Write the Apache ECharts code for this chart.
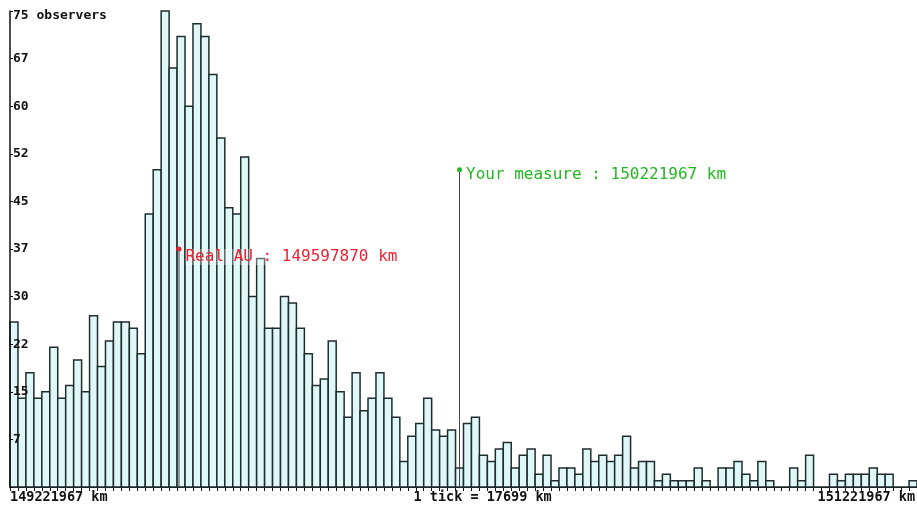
<!DOCTYPE html>
<html>
<head>
<meta charset="utf-8">
<script src="https://cdn.jsdelivr.net/npm/echarts@6/dist/echarts.min.js"></script>
<style>
  html, body { margin: 0; padding: 0; background: #fff; }
  #chart { width: 917px; height: 509px; }
</style>
</head>
<body>
<div id="chart"></div>
<script>
// histogram of measured AU distances, one bin = 1 tick
var startKm = 149221967;
var endKm = 151221967;
var tickKm = 17699;

// observers per bin
var counts = [
    26, 14, 18, 14, 15, 22, 14, 16, 20, 15, 27, 19, 23, 26, 26, 25, 21, 43, 50,
    75, 66, 71, 60, 73, 71, 65, 55, 44, 43, 52, 30, 36, 25, 25, 30, 29, 25, 21,
    16, 17, 23, 15, 11, 18, 12, 14, 18, 14, 11, 4, 8, 10, 14, 9, 8, 9, 3,
    10, 11, 5, 4, 6, 7, 3, 5, 6, 2, 5, 1, 3, 3, 2, 6, 4, 5,
    4, 5, 8, 3, 4, 4, 1, 2, 1, 1, 1, 3, 1, 0, 3, 3, 4, 2, 1,
    4, 1, 0, 0, 3, 1, 5, 0, 0, 2, 1, 2, 2, 2, 3, 2, 2, 0, 0, 1
];
var bins = counts.map(function (c, i) { return i; });

// y axis: 0..75, step 7.5, labels cut to integer
var yMax = 75;
var yStep = 7.5;

// the two marked distances
var markNames = ['Real AU', 'Your measure'];
var markKm = [149597870, 150221967];
var markLevel = [37.5, 50];
var markColors = ['#ee2233', '#22b822'];

var font = 'DejaVu Sans Mono';
var myChart = echarts.init(document.getElementById('chart'));

// bars drawn edge to edge so the borders of neighbours share one line
function renderBar(params, api) {
    var idx = api.value(0);
    var top = api.coord([idx, api.value(1)]);
    var base = api.coord([idx, 0]);
    var w = api.size([1, 0])[0];
    return {
        type: 'rect',
        shape: { x: top[0] - w / 2, y: top[1], width: w, height: base[1] - top[1] },
        style: { fill: '#dff7f7', stroke: '#1f2d2d', lineWidth: 1.5 }
    };
}

var markSeries = markKm.map(function (km, k) {
    return {
        type: 'line',
        xAxisIndex: 1,
        yAxisIndex: 0,
        silent: true,
        animation: false,
        lineStyle: { color: '#444', width: 1 },
        z: 5,
        data: [
            { value: [km, 0], symbol: 'none' },
            {
                value: [km, markLevel[k]],
                symbol: 'circle',
                symbolSize: 5,
                itemStyle: { color: markColors[k] },
                label: {
                    show: true,
                    position: 'right',
                    distance: 4,
                    offset: [0, k === 0 ? 8 : 5],
                    formatter: markNames[k] + ' : ' + km + ' km',
                    color: markColors[k],
                    fontFamily: font,
                    fontSize: 16,
                    backgroundColor: 'rgba(255,255,255,0.3)'
                }
            }
        ]
    };
});

var option = {
    animation: false,
    backgroundColor: '#fff',
    grid: { left: 10, right: -3, top: 11, bottom: 22 },
    xAxis: [
        {
            type: 'category',
            data: bins,
            boundaryGap: true,
            axisLine: { lineStyle: { color: '#111', width: 1 } },
            axisTick: { show: true, interval: 0, length: 4, lineStyle: { color: '#111' } },
            axisLabel: { show: false },
            splitLine: { show: false }
        },
        {
            type: 'value',
            min: startKm,
            max: startKm + counts.length * tickKm,
            show: false
        }
    ],
    yAxis: {
        type: 'value',
        min: 0,
        max: yMax,
        interval: yStep,
        z: 10,
        axisLine: { show: true, lineStyle: { color: '#111', width: 1.5 } },
        axisTick: { show: true, inside: true, length: 3, lineStyle: { color: '#111' } },
        splitLine: { show: false },
        axisLabel: {
            inside: true,
            margin: 3,
            color: '#111',
            fontFamily: font,
            fontWeight: 'bold',
            fontSize: 13,
            formatter: function (v) {
                if (v === 0) return '';
                if (v === yMax) return '{t|' + v + ' observers}';
                return String(Math.floor(v));
            },
            rich: {
                t: { fontFamily: font, fontWeight: 'bold', fontSize: 13, color: '#111', padding: [9, 0, 0, 0] }
            }
        }
    },
    series: [
        {
            type: 'custom',
            renderItem: renderBar,
            encode: { x: 0, y: 1 },
            data: counts.map(function (c, i) { return [bins[i], c]; }),
            silent: true
        }
    ].concat(markSeries)
};

myChart.setOption(option);

// bottom texts, placed through the hidden km axis
var leftX = myChart.convertToPixel({ xAxisIndex: 1 }, startKm);
var rightX = myChart.convertToPixel({ xAxisIndex: 1 }, endKm);
var midX = myChart.convertToPixel({ xAxisIndex: 1 }, (startKm + endKm) / 2);
var textY = 497;
var axisText = { fill: '#111', fontFamily: font, fontWeight: 'bold', fontSize: 13.5, textVerticalAlign: 'middle' };

myChart.setOption({
    graphic: [
        { type: 'text', x: leftX, y: textY, style: Object.assign({ text: startKm + ' km', textAlign: 'left' }, axisText) },
        { type: 'text', x: midX - 46, y: textY, style: Object.assign({ text: '1 tick = ' + tickKm + ' km', textAlign: 'left' }, axisText) },
        { type: 'text', x: rightX + 6, y: textY, style: Object.assign({ text: endKm + ' km', textAlign: 'right' }, axisText) }
    ]
});
</script>
</body>
</html>
